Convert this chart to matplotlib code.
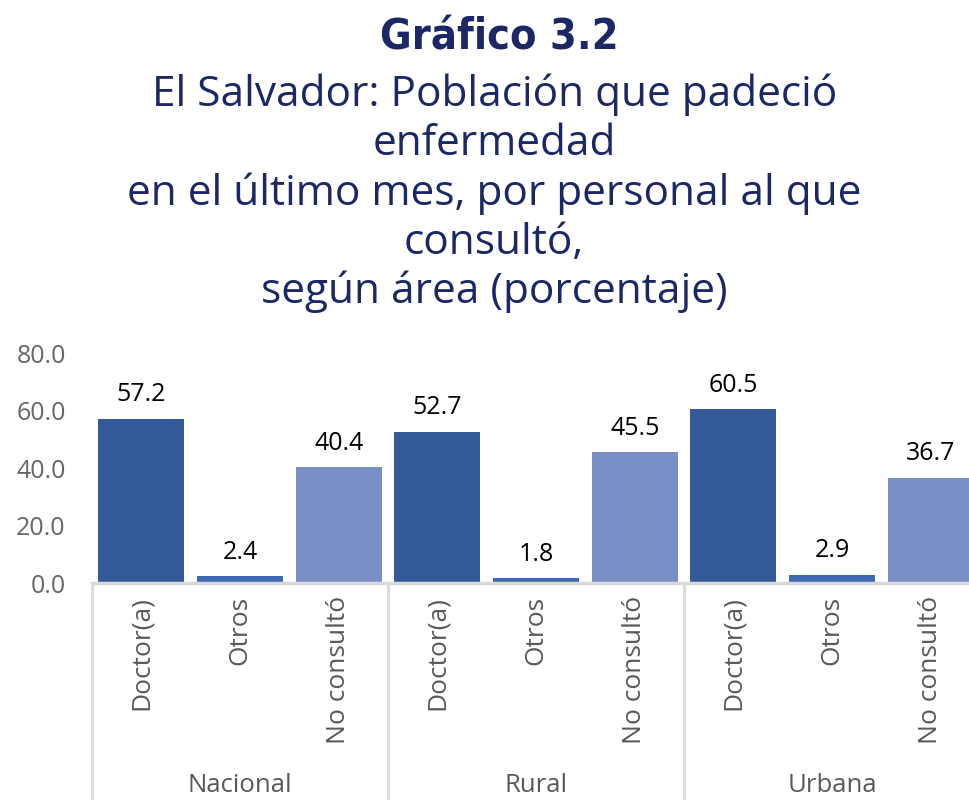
import numpy as np
from matplotlib import pyplot as plt
import matplotlib.transforms as mtransforms

# datos
areas = ["Nacional", "Rural", "Urbana"]
categorias = ["Doctor(a)", "Otros", "No consultó"]
valores = [[57.2, 2.4, 40.4],
           [52.7, 1.8, 45.5],
           [60.5, 2.9, 36.7]]
colores = ["#345A9A", "#3F68B2", "#7B8FC7"]
yticks = [0, 20, 40, 60, 80]

navy = "#1B2766"
plt.rcParams['font.family'] = ['Open Sans', 'DejaVu Sans']

fig = plt.figure(figsize=(9.69, 8.0), dpi=100)
ax = fig.add_axes([0.095, 0.271, 0.9164, 0.2875])

ncat = len(categorias)
x = []
for g, area in enumerate(areas):
    for c in range(ncat):
        pos = g * ncat + c
        v = valores[g][c]
        ax.bar(pos, v, width=0.87, color=colores[c])
        ax.text(pos, v + 4, f"{v:.1f}", ha='center', va='bottom', fontsize=18, color='black')
        x.append(pos)

ax.set_xlim(-0.5, len(areas) * ncat - 0.5)
ax.set_ylim(0, 80)
ax.set_yticks(yticks)
ax.set_yticklabels([f"{t:.1f}" for t in yticks], fontsize=18, color='#666666')
ax.tick_params(axis='y', length=0, pad=19)
ax.set_xticks(x)
ax.set_xticklabels(categorias * len(areas), rotation=90, fontsize=19, color='#595959', va='top')
ax.tick_params(axis='x', length=0, pad=9)
for s in ['top', 'right', 'left']:
    ax.spines[s].set_visible(False)
ax.spines['bottom'].set_color('#D9D9D9')
ax.spines['bottom'].set_linewidth(2.5)

# separadores de grupo y etiquetas de área
trans = mtransforms.blended_transform_factory(ax.transData, ax.transAxes)
for g in range(len(areas) + 1):
    xs = g * ncat - 0.5
    ax.plot([xs, xs], [0, -0.95], transform=trans, color='#D9D9D9', lw=2, clip_on=False)
for g, area in enumerate(areas):
    ax.text(g * ncat + 1, -0.88, area, transform=trans, ha='center', va='center',
            fontsize=18.5, color='#595959')

# título
fig.text(0.515, 0.953, "Gráfico 3.2", ha='center', va='center', fontsize=31,
         fontweight='bold', color=navy,
         family=['DejaVu Sans Condensed', 'DejaVu Sans'], stretch='condensed')
subt = ("El Salvador: Población que padeció\nenfermedad\n"
        "en el último mes, por personal al que\nconsultó,\n"
        "según área (porcentaje)")
fig.text(0.51, 0.908, subt, ha='center', va='top', fontsize=30.5, color=navy,
         linespacing=1.22)

fig.savefig("out.png", dpi=100)
